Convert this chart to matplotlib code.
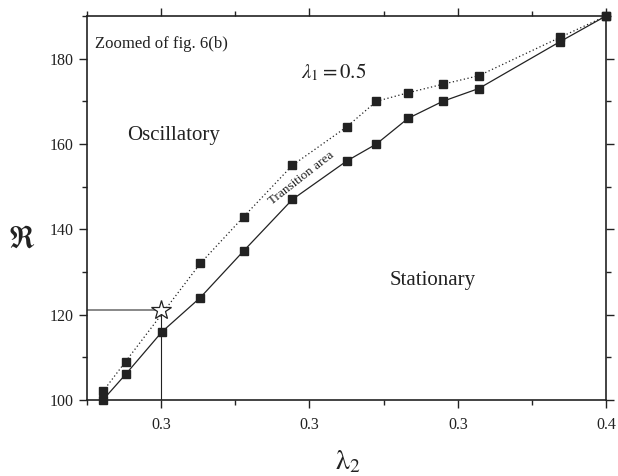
# Zoomed view of fig. 6(b): transition area between oscillatory and stationary regimes
import matplotlib
matplotlib.use("Agg")
import matplotlib.pyplot as plt
from matplotlib.ticker import FixedLocator, MultipleLocator

plt.rcParams['font.family'] = ['Liberation Serif', 'DejaVu Serif']
plt.rcParams['mathtext.fontset'] = 'stix'

# values
lam2_osc = [0.2869, 0.2920, 0.3088, 0.3186, 0.3295, 0.3417, 0.3484, 0.3555, 0.3633, 0.3714, 0.3897, 0.4000]
R_osc = [102, 109, 132, 143, 155, 164, 170, 172, 174, 176, 185, 190]

lam2_stat = [0.2869, 0.2920, 0.3002, 0.3088, 0.3186, 0.3295, 0.3417, 0.3484, 0.3555, 0.3633, 0.3714, 0.3897, 0.4000]
R_stat = [100, 106, 116, 124, 135, 147, 156, 160, 166, 170, 173, 184, 190]

star_lam2 = 0.300
star_R = 121

x_ticks = [0.30, 0.3333, 0.3667, 0.40]
x_tick_labels = ["0.3", "0.3", "0.3", "0.4"]
x_minor = [0.28333, 0.31667, 0.35, 0.38333]

ink = '#222222'

fig = plt.figure(figsize=(6.18, 4.76), dpi=100)
ax = fig.add_axes([0.1408, 0.1597, 0.8397, 0.8067])

ax.plot(lam2_osc, R_osc, color=ink, lw=0.9, ls=(0, (1, 2)), marker='s', ms=5.5,
        mfc=ink, mec=ink, zorder=3, clip_on=False)
ax.plot(lam2_stat, R_stat, color=ink, lw=0.9, ls='-', marker='s', ms=5.5,
        mfc=ink, mec=ink, zorder=3, clip_on=False)

# guide lines to the star
ax.plot([0.28333, star_lam2], [star_R, star_R], color='#888888', lw=1.4, zorder=2)
ax.plot([star_lam2, star_lam2], [100, star_R], color=ink, lw=0.8, zorder=2)
ax.plot([star_lam2], [star_R], marker='*', ms=15, mfc='white', mec=ink, mew=0.9,
        ls='none', zorder=4)

ax.set_xlim(0.28333, 0.40)
ax.set_ylim(100, 190)

ax.xaxis.set_major_locator(FixedLocator(x_ticks))
ax.set_xticklabels(x_tick_labels)
ax.xaxis.set_minor_locator(FixedLocator(x_minor))
ax.yaxis.set_major_locator(MultipleLocator(20))
ax.yaxis.set_minor_locator(MultipleLocator(10))

ax.tick_params(which='both', direction='out', top=True, right=True,
               colors=ink, labelsize=11.5, width=1.0)
ax.tick_params(which='major', length=6)
ax.tick_params(which='minor', length=3.5)
ax.tick_params(axis='x', pad=6)
for s in ax.spines.values():
    s.set_linewidth(1.2)
    s.set_color(ink)

ax.text(0.015, 0.927, "Zoomed of fig. 6(b)", transform=ax.transAxes,
        fontsize=12, color=ink, va='center', ha='left')
ax.text(0.413, 0.854, r"$\lambda_1 = 0.5$", transform=ax.transAxes,
        fontsize=15, color=ink, va='center', ha='left')
ax.text(0.078, 0.690, "Oscillatory", transform=ax.transAxes,
        fontsize=15, color=ink, va='center', ha='left')
ax.text(0.583, 0.310, "Stationary", transform=ax.transAxes,
        fontsize=15, color=ink, va='center', ha='left')
ax.text(0.3316, 152.0, "Transition area", fontsize=9.5, color=ink,
        rotation=38, rotation_mode='anchor', ha='center', va='center')

fig.text(22 / 618, 1 - 240 / 476, r"$\Re$", fontsize=22, color=ink,
         ha='center', va='center')
fig.text(348 / 618, 1 - 462 / 476, r"$\mathrm{\lambda}_2$", fontsize=20, color=ink,
         ha='center', va='center')

fig.savefig("out.png", dpi=100)
